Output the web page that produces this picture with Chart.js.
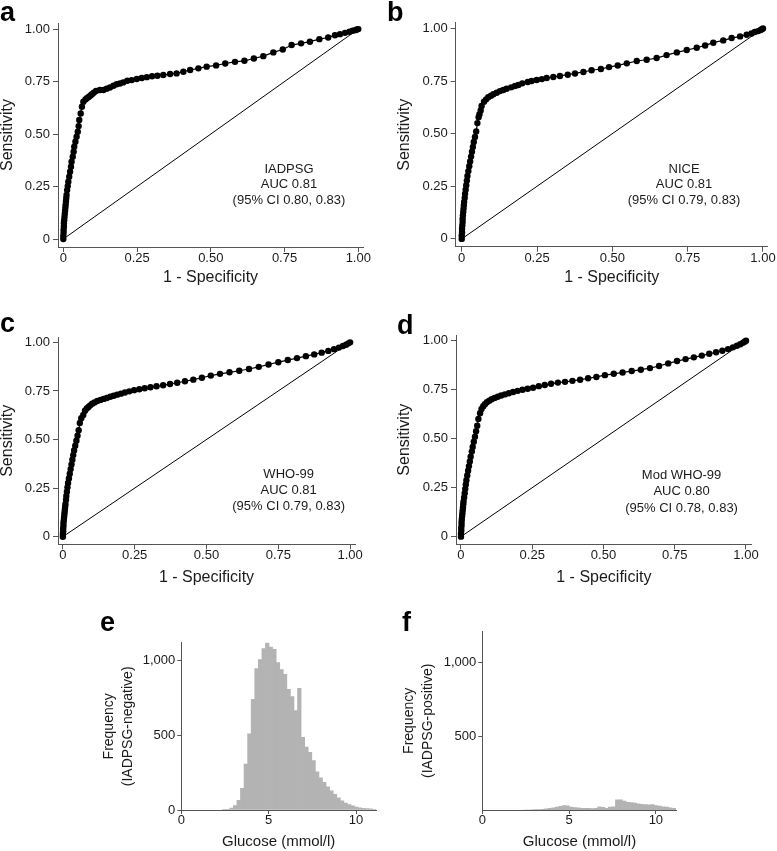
<!DOCTYPE html>
<html>
<head>
<meta charset="utf-8">
<script src="https://cdn.jsdelivr.net/npm/chart.js@4.4.0/dist/chart.umd.min.js"></script>
<style>
  body { margin: 0; background: #fff; }
  #fig { position: relative; width: 777px; height: 851px; overflow: hidden; font-family: "Liberation Sans", Arial, sans-serif; }
  .panel { position: absolute; }
  .tag { position: absolute; font-weight: bold; font-size: 27px; line-height: 1; color: #000; }
</style>
</head>
<body>
<div id="fig">
  <canvas id="rocA" class="panel" style="left:0px;top:0px" width="380" height="290"></canvas>
  <canvas id="rocB" class="panel" style="left:397px;top:0px" width="380" height="290"></canvas>
  <canvas id="rocC" class="panel" style="left:0px;top:300px" width="380" height="290"></canvas>
  <canvas id="rocD" class="panel" style="left:397px;top:300px" width="380" height="290"></canvas>
  <canvas id="histE" class="panel" style="left:100px;top:590px" width="290" height="261"></canvas>
  <canvas id="histF" class="panel" style="left:400px;top:590px" width="290" height="261"></canvas>
  <div class="tag" style="left:0px;top:-1px">a</div>
  <div class="tag" style="left:387px;top:-1px">b</div>
  <div class="tag" style="left:0px;top:310px">c</div>
  <div class="tag" style="left:397px;top:312px">d</div>
  <div class="tag" style="left:100px;top:609px">e</div>
  <div class="tag" style="left:402px;top:609px">f</div>
</div>
<script>
'use strict';

// ROC curves (1 - specificity, sensitivity)
var fprA = [0, 0, 0.001, 0.001, 0.002, 0.002, 0.003, 0.004, 0.005, 0.006,
    0.007, 0.008, 0.009, 0.010, 0.011, 0.013, 0.015, 0.017, 0.020, 0.023,
    0.026, 0.028, 0.032, 0.035, 0.037, 0.041, 0.045, 0.049, 0.052, 0.054,
    0.059, 0.063, 0.068, 0.075, 0.080, 0.086, 0.092, 0.097, 0.103, 0.111,
    0.124, 0.136, 0.147, 0.158, 0.170, 0.181, 0.192, 0.203, 0.217, 0.232,
    0.249, 0.266, 0.283, 0.301, 0.319, 0.339, 0.362, 0.384, 0.407, 0.430,
    0.458, 0.486, 0.518, 0.549, 0.582, 0.614, 0.646, 0.678, 0.712, 0.744,
    0.774, 0.806, 0.836, 0.868, 0.898, 0.921, 0.938, 0.955, 0.970, 0.981,
    0.990, 0.995, 1];
var tprA = [0, 0.015, 0.030, 0.045, 0.060, 0.075, 0.090, 0.105, 0.120, 0.135,
    0.150, 0.165, 0.180, 0.195, 0.210, 0.233, 0.252, 0.273, 0.297, 0.321,
    0.344, 0.368, 0.392, 0.416, 0.440, 0.463, 0.487, 0.511, 0.538, 0.567,
    0.598, 0.630, 0.654, 0.665, 0.671, 0.677, 0.684, 0.690, 0.697, 0.705,
    0.710, 0.710, 0.716, 0.722, 0.730, 0.737, 0.741, 0.746, 0.754, 0.757,
    0.762, 0.767, 0.771, 0.775, 0.778, 0.781, 0.786, 0.789, 0.797, 0.805,
    0.813, 0.821, 0.827, 0.836, 0.844, 0.849, 0.860, 0.871, 0.889, 0.903,
    0.924, 0.932, 0.940, 0.952, 0.960, 0.971, 0.976, 0.982, 0.987, 0.992,
    0.995, 0.998, 1];

var fprB = [0, 0, 0.001, 0.001, 0.002, 0.003, 0.003, 0.004, 0.005, 0.006,
    0.007, 0.008, 0.010, 0.011, 0.013, 0.015, 0.017, 0.019, 0.022, 0.025,
    0.028, 0.031, 0.034, 0.037, 0.040, 0.044, 0.048, 0.052, 0.056, 0.059,
    0.063, 0.066, 0.074, 0.081, 0.088, 0.097, 0.105, 0.116, 0.127, 0.138,
    0.149, 0.164, 0.177, 0.188, 0.201, 0.219, 0.232, 0.249, 0.266, 0.282,
    0.304, 0.326, 0.352, 0.376, 0.404, 0.431, 0.462, 0.489, 0.518, 0.548,
    0.581, 0.614, 0.647, 0.680, 0.714, 0.747, 0.780, 0.808, 0.835, 0.868,
    0.896, 0.924, 0.946, 0.962, 0.973, 0.984, 0.992, 0.996, 1];
var tprB = [0, 0.016, 0.032, 0.048, 0.064, 0.080, 0.096, 0.112, 0.128, 0.144,
    0.160, 0.176, 0.195, 0.214, 0.234, 0.255, 0.277, 0.299, 0.322, 0.345,
    0.368, 0.391, 0.414, 0.437, 0.460, 0.484, 0.510, 0.550, 0.578, 0.592,
    0.610, 0.631, 0.652, 0.663, 0.673, 0.680, 0.687, 0.694, 0.702, 0.707,
    0.713, 0.720, 0.726, 0.731, 0.739, 0.745, 0.750, 0.755, 0.759, 0.764,
    0.769, 0.774, 0.780, 0.786, 0.793, 0.801, 0.807, 0.816, 0.824, 0.834,
    0.845, 0.851, 0.859, 0.873, 0.886, 0.897, 0.908, 0.919, 0.932, 0.943,
    0.954, 0.962, 0.970, 0.976, 0.983, 0.987, 0.992, 0.996, 1];

var fprC = [0, 0, 0.001, 0.001, 0.002, 0.002, 0.003, 0.004, 0.005, 0.006,
    0.007, 0.008, 0.009, 0.011, 0.012, 0.014, 0.016, 0.018, 0.021, 0.024,
    0.027, 0.030, 0.033, 0.036, 0.039, 0.043, 0.047, 0.051, 0.055, 0.059,
    0.064, 0.071, 0.077, 0.083, 0.089, 0.095, 0.102, 0.110, 0.120, 0.131,
    0.142, 0.153, 0.165, 0.177, 0.189, 0.202, 0.216, 0.231, 0.248, 0.266,
    0.285, 0.305, 0.326, 0.349, 0.373, 0.398, 0.425, 0.454, 0.484, 0.515,
    0.547, 0.580, 0.614, 0.648, 0.682, 0.716, 0.750, 0.783, 0.815, 0.846,
    0.875, 0.901, 0.924, 0.944, 0.961, 0.975, 0.986, 0.994, 1];
var tprC = [0, 0.014, 0.028, 0.042, 0.056, 0.070, 0.084, 0.098, 0.112, 0.126,
    0.140, 0.154, 0.168, 0.190, 0.210, 0.232, 0.254, 0.276, 0.300, 0.324,
    0.348, 0.372, 0.396, 0.420, 0.444, 0.468, 0.494, 0.520, 0.548, 0.585,
    0.610, 0.626, 0.648, 0.660, 0.668, 0.676, 0.684, 0.691, 0.698, 0.704,
    0.709, 0.714, 0.720, 0.725, 0.731, 0.736, 0.742, 0.748, 0.754, 0.759,
    0.764, 0.769, 0.774, 0.779, 0.786, 0.792, 0.800, 0.808, 0.818, 0.829,
    0.838, 0.846, 0.854, 0.863, 0.874, 0.886, 0.898, 0.909, 0.919, 0.929,
    0.938, 0.947, 0.956, 0.965, 0.973, 0.981, 0.988, 0.995, 1];

var fprD = [0, 0, 0.001, 0.001, 0.002, 0.002, 0.003, 0.004, 0.005, 0.006,
    0.007, 0.008, 0.009, 0.011, 0.013, 0.015, 0.017, 0.019, 0.022, 0.025,
    0.028, 0.031, 0.034, 0.038, 0.041, 0.045, 0.049, 0.053, 0.057, 0.061,
    0.067, 0.072, 0.078, 0.084, 0.091, 0.099, 0.108, 0.118, 0.129, 0.141,
    0.154, 0.168, 0.183, 0.199, 0.216, 0.234, 0.253, 0.273, 0.294, 0.316,
    0.340, 0.365, 0.391, 0.418, 0.446, 0.475, 0.505, 0.536, 0.567, 0.599,
    0.631, 0.663, 0.695, 0.727, 0.758, 0.788, 0.817, 0.845, 0.871, 0.895,
    0.917, 0.937, 0.954, 0.968, 0.980, 0.989, 0.995, 1];
var tprD = [0, 0.015, 0.030, 0.045, 0.060, 0.075, 0.090, 0.105, 0.120, 0.135,
    0.150, 0.165, 0.180, 0.200, 0.222, 0.244, 0.266, 0.288, 0.312, 0.336,
    0.360, 0.384, 0.408, 0.434, 0.458, 0.484, 0.510, 0.538, 0.566, 0.600,
    0.630, 0.652, 0.666, 0.676, 0.686, 0.694, 0.701, 0.708, 0.714, 0.720,
    0.726, 0.732, 0.738, 0.744, 0.750, 0.755, 0.760, 0.768, 0.774, 0.780,
    0.786, 0.790, 0.795, 0.801, 0.808, 0.815, 0.824, 0.831, 0.838, 0.845,
    0.852, 0.860, 0.871, 0.884, 0.896, 0.906, 0.915, 0.924, 0.933, 0.941,
    0.949, 0.957, 0.966, 0.974, 0.982, 0.989, 0.995, 1];

var rocTicks = [0, 0.25, 0.5, 0.75, 1];
var rocTickLabels = ['0', '0.25', '0.50', '0.75', '1.00'];
var criteria = ['IADPSG', 'NICE', 'WHO-99', 'Mod WHO-99'];
var aucText = ['AUC 0.81', 'AUC 0.81', 'AUC 0.81', 'AUC 0.80'];
var ciText = ['(95% CI 0.80, 0.83)', '(95% CI 0.79, 0.83)', '(95% CI 0.79, 0.83)', '(95% CI 0.78, 0.83)'];

// glucose histograms, bin centres (mmol/l) and counts
var glucoseBins = [2.469, 2.673, 2.877, 3.081, 3.285, 3.489, 3.693, 3.897, 4.101, 4.305,
    4.509, 4.713, 4.917, 5.121, 5.325, 5.529, 5.733, 5.937, 6.141, 6.345,
    6.549, 6.753, 6.957, 7.161, 7.365, 7.569, 7.773, 7.977, 8.181, 8.385,
    8.589, 8.793, 8.997, 9.201, 9.405, 9.609, 9.813, 10.017, 10.221, 10.425,
    10.629, 10.833, 11.037];
var negCounts = [3, 5, 12, 30, 65, 145, 307, 509, 739, 945,
    1004, 1077, 1117, 1088, 1073, 985, 938, 905, 805, 757,
    664, 812, 485, 420, 385, 330, 255, 215, 185, 155,
    128, 105, 82, 62, 47, 36, 28, 20, 14, 11,
    9, 7, 5];
var posCounts = [0, 0, 1, 2, 3, 5, 8, 12, 15, 19,
    24, 30, 28, 20, 16, 15, 12, 11, 11, 10,
    12, 21, 18, 12, 20, 22, 68, 68, 60, 52,
    50, 46, 42, 38, 36, 35, 36, 30, 26, 22,
    20, 15, 12];
var histXTicks = [0, 5, 10];
var negYTicks = [0, 500, 1000];
var negYLabels = ['0', '500', '1,000'];
var posYTicks = [500, 1000];
var posYLabels = ['500', '1,000'];

var FONT = '"Liberation Sans", Arial, sans-serif';
var AXIS_GREY = '#555';
var TEXT_COL = '#1a1a1a';

Chart.defaults.font.family = FONT;
Chart.defaults.font.size = 13;
Chart.defaults.color = TEXT_COL;

//writes the criterion / AUC / CI lines inside a ROC panel
var notePlugin = {
    id: 'notes',
    afterDatasetsDraw: function(chart, args, opts) {
        if (!opts.lines) return;
        var ctx = chart.ctx;
        var xs = chart.scales.x, ys = chart.scales.y;
        ctx.save();
        ctx.font = '13px ' + FONT;
        ctx.fillStyle = TEXT_COL;
        ctx.textAlign = 'center';
        ctx.textBaseline = 'middle';
        for (var i = 0; i < opts.lines.length; i++) {
            ctx.fillText(opts.lines[i], xs.getPixelForValue(opts.x), ys.getPixelForValue(opts.y[i]));
        }
        ctx.restore();
    }
};

function fixedTicks(values) {
    return function(scale) {
        scale.ticks = values.map(function(v) { return {value: v}; });
    };
}

function axisStyle(extra) {
    var base = {
        grid: {drawOnChartArea: false, drawTicks: true, tickLength: 5, color: AXIS_GREY, offset: false},
        border: {display: true, color: AXIS_GREY, width: 1},
        offset: false
    };
    return Object.assign(base, extra);
}

/**
 * one ROC panel
 */
function makeRoc(id, fpr, tpr, idx, box) {
    var pts = fpr.map(function(f, i) { return {x: f, y: tpr[i]}; });

    new Chart(document.getElementById(id), {
        type: 'scatter',
        data: {
            datasets: [{
                data: pts,
                showLine: true,
                borderColor: '#000',
                borderWidth: 1.2,
                pointRadius: 3.2,
                pointBackgroundColor: '#000',
                pointBorderWidth: 0,
                clip: false
            }, {
                data: [{x: 0, y: 0}, {x: 1, y: 1}],
                showLine: true,
                borderColor: '#000',
                borderWidth: 1,
                pointRadius: 0
            }]
        },
        options: {
            responsive: false,
            animation: false,
            events: [],
            layout: {padding: {top: box.padTop, right: box.padRight, left: 0, bottom: 0}},
            plugins: {
                legend: {display: false},
                tooltip: {enabled: false},
                notes: {lines: [criteria[idx], aucText[idx], ciText[idx]], x: box.noteX, y: box.noteY}
            },
            scales: {
                x: axisStyle({
                    type: 'linear', min: box.xMin, max: box.xMax,
                    afterBuildTicks: fixedTicks(rocTicks),
                    afterFit: function(s) { s.height = box.xAxisHeight; },
                    ticks: {
                        autoSkip: false, maxRotation: 0, padding: 0,
                        font: {size: 13, lineHeight: 1},
                        callback: function(v, i) { return rocTickLabels[i]; }
                    },
                    title: {display: true, text: '1 - Specificity', font: {size: 16}, padding: {top: 0, bottom: box.titlePad}}
                }),
                y: axisStyle({
                    type: 'linear', min: box.yMin, max: box.yMax,
                    afterBuildTicks: fixedTicks(rocTicks),
                    afterFit: function(s) { s.width = box.yAxisWidth; },
                    ticks: {
                        autoSkip: false, padding: 3,
                        callback: function(v, i) { return rocTickLabels[i]; }
                    },
                    title: {display: true, text: 'Sensitivity', font: {size: 16, lineHeight: 1}, padding: {top: 0, bottom: 0}}
                })
            }
        },
        plugins: [notePlugin]
    });
}

/**
 * one glucose histogram panel
 */
function makeHist(id, counts, yTicks, yLabels, titleLines, box) {
    var bars = glucoseBins.map(function(g, i) { return {x: g, y: counts[i]}; });

    new Chart(document.getElementById(id), {
        type: 'bar',
        data: {
            datasets: [{
                data: bars,
                backgroundColor: '#b3b3b3',
                borderWidth: 0,
                barPercentage: 1,
                categoryPercentage: 1
            }]
        },
        options: {
            responsive: false,
            animation: false,
            events: [],
            layout: {padding: {top: box.padTop, right: box.padRight, left: 0, bottom: 0}},
            plugins: {legend: {display: false}, tooltip: {enabled: false}},
            scales: {
                x: axisStyle({
                    type: 'linear', min: 0, max: box.xMax,
                    afterBuildTicks: fixedTicks(histXTicks),
                    afterFit: function(s) { s.height = box.xAxisHeight; },
                    ticks: {autoSkip: false, maxRotation: 0, padding: 0, font: {size: 13, lineHeight: 1}},
                    grid: {drawOnChartArea: false, drawTicks: true, tickLength: 4, color: AXIS_GREY, offset: false},
                    title: {display: true, text: 'Glucose (mmol/l)', font: {size: 15}, padding: {top: 0, bottom: 0}}
                }),
                y: axisStyle({
                    type: 'linear', min: 0, max: box.yMax,
                    afterBuildTicks: fixedTicks(yTicks),
                    afterFit: function(s) { s.width = box.yAxisWidth; },
                    ticks: {
                        autoSkip: false, padding: 2,
                        callback: function(v, i) { return yLabels[i]; }
                    },
                    grid: {drawOnChartArea: false, drawTicks: true, tickLength: 4, color: AXIS_GREY, offset: false},
                    title: {display: true, text: titleLines, font: {size: 14, lineHeight: 1.35}, padding: {top: 0, bottom: 0}}
                })
            }
        }
    });
}

makeRoc('rocA', fprA, tprA, 0, {padTop: 23, padRight: 17, yAxisWidth: 58, xAxisHeight: 43, titlePad: 2.4,
    xMin: -0.018, xMax: 1.016, yMin: -0.038, yMax: 1.029, noteX: 0.765, noteY: [0.333, 0.262, 0.186]});
makeRoc('rocB', fprB, tprB, 1, {padTop: 22.7, padRight: 9.2, yAxisWidth: 58.7, xAxisHeight: 43.3, titlePad: 2.4,
    xMin: -0.020, xMax: 1.016, yMin: -0.037, yMax: 1.027, noteX: 0.738, noteY: [0.332, 0.261, 0.185]});
makeRoc('rocC', fprC, tprC, 2, {padTop: 37.3, padRight: 25, yAxisWidth: 58, xAxisHeight: 45.7, titlePad: 3.2,
    xMin: -0.017, xMax: 1.017, yMin: -0.039, yMax: 1.026, noteX: 0.786, noteY: [0.321, 0.237, 0.154]});
makeRoc('rocD', fprD, tprD, 3, {padTop: 35, padRight: 25.3, yAxisWidth: 59, xAxisHeight: 45.7, titlePad: 3.2,
    xMin: -0.0175, xMax: 1.02, yMin: -0.039, yMax: 1.029, noteX: 0.774, noteY: [0.310, 0.230, 0.145]});

makeHist('histE', negCounts, negYTicks, negYLabels, ['Frequency', '(IADPSG-negative)'],
    {padTop: 52.7, padRight: 14, yAxisWidth: 81.3, xAxisHeight: 41, xMax: 11.14, yMax: 1117});
makeHist('histF', posCounts, posYTicks, posYLabels, ['Frequency', '(IADPSG-positive)'],
    {padTop: 41.7, padRight: 13.3, yAxisWidth: 82.3, xAxisHeight: 41, xMax: 11.2, yMax: 1207});
</script>
</body>
</html>
